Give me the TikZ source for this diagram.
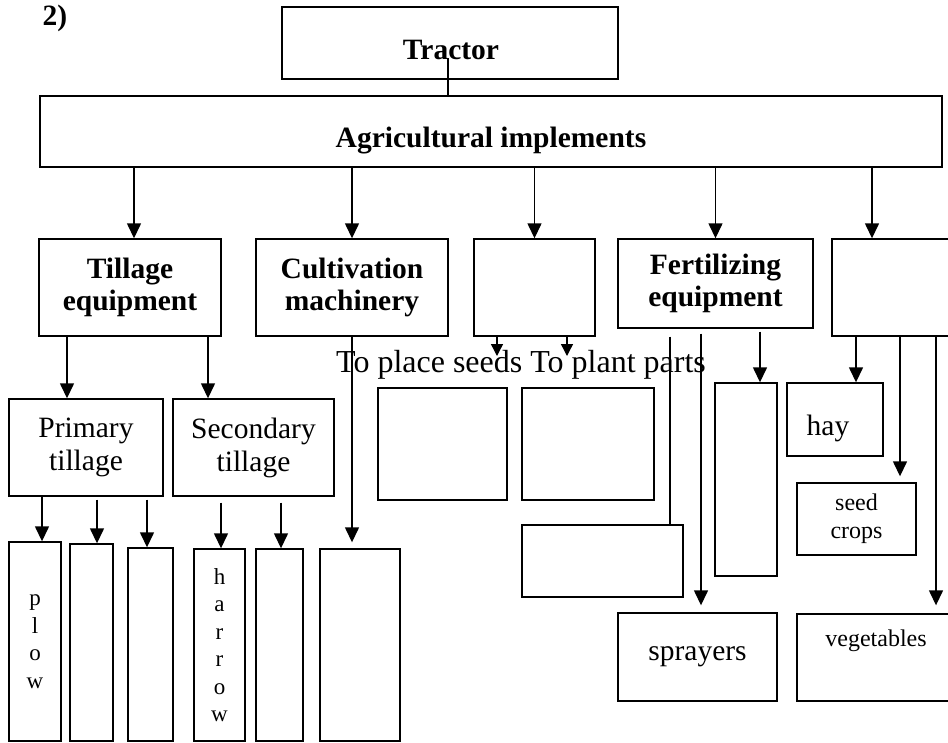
\documentclass[tikz,border=0pt]{standalone}
\usepackage{fontspec}
\setmainfont{Liberation Serif}
\usetikzlibrary{arrows.meta}

\begin{document}
\begin{tikzpicture} [
    x=1pt, y=-1pt,
    block/.style    = { rectangle, draw, line width=1.4pt, inner sep=0pt,
                        align=center },
    txt/.style      = { inner sep=0pt, align=center },
    bold/.style     = { font=\fontsize{29.5}{32}\selectfont\bfseries },
    plain/.style    = { font=\fontsize{29.5}{33}\selectfont },
    small/.style    = { font=\fontsize{24}{28}\selectfont },
    letters/.style  = { font=\fontsize{23}{27.5}\selectfont },
    line/.style     = { draw, line width=1.4pt },
    arrow/.style    = { line, -{Triangle[length=15pt,width=14pt]} },
    minor/.style    = { line, -{Triangle[length=12pt,width=12pt]} },
  ]
  \useasboundingbox (0,0) rectangle (948,742);

  % Define nodes at coordinates
  \node[txt, bold] (num) at (55,18) {2)};
  \node[block, minimum width=336pt, minimum height=72pt] (tractor) at (450,43) {};
  \node[txt, bold] (tractortxt) at (451,50) {Tractor};
  \node[block, minimum width=902pt, minimum height=71pt] (agri) at (491,131.5) {};
  \node[txt, bold] (agritxt) at (491,141) {Agricultural implements};

  \node[block, bold, minimum width=182pt, minimum height=97pt] (tillage) at (130,287.5) {Tillage\\equipment};
  \node[block, bold, minimum width=192pt, minimum height=97pt] (cultiv) at (352,287.5) {Cultivation\\machinery};
  \node[block, minimum width=121pt, minimum height=97pt] (sowing) at (534.5,287.5) {};
  \node[block, bold, minimum width=195pt, minimum height=89pt] (fert) at (715.5,283.5) {Fertilizing\\equipment};
  \node[block, minimum width=130pt, minimum height=97pt] (harvest) at (897,287.5) {};

  \node[block, plain, minimum width=154pt, minimum height=97pt] (primary) at (86,447.5) {Primary\\tillage};
  \node[block, plain, minimum width=161pt, minimum height=97pt] (secondary) at (253.5,447.5) {Secondary\\tillage};
  \node[block, letters, minimum width=52pt, minimum height=199pt] (plow) at (35,641.5) {p\\l\\o\\w};
  \node[block, minimum width=43pt, minimum height=197pt] (primtwo) at (91.5,642.5) {};
  \node[block, minimum width=45pt, minimum height=193pt] (primthree) at (150.5,644.5) {};
  \node[block, letters, minimum width=51pt, minimum height=192pt] (harrow) at (219.5,645) {h\\a\\r\\r\\o\\w};
  \node[block, minimum width=47pt, minimum height=192pt] (sectwo) at (279.5,645) {};
  \node[block, minimum width=80pt, minimum height=192pt] (cultone) at (360,645) {};

  \node[txt, font=\fontsize{32}{36}\selectfont] (sowtxt) at (521,364.5) {To place seeds To plant parts};
  \coordinate (seedtip) at (497,356);
  \coordinate (planttip) at (567,356);
  \node[block, minimum width=129pt, minimum height=112pt] (seeds) at (442.5,444) {};
  \node[block, minimum width=132pt, minimum height=112pt] (parts) at (588,444) {};

  \node[block, minimum width=161pt, minimum height=72pt] (fertone) at (602.5,561) {};
  \node[block, plain, minimum width=159pt, minimum height=88pt] (sprayers) at (697.5,657) {sprayers};
  \node[block, minimum width=62pt, minimum height=193pt] (ferttall) at (746,479.5) {};

  \node[block, minimum width=96pt, minimum height=73pt] (hay) at (835,419.5) {};
  \node[txt, plain] (haytxt) at (828,428) {hay};
  \node[block, small, minimum width=119pt, minimum height=72pt] (seedcrops) at (856.5,519) {seed\\crops};
  \node[block, minimum width=158pt, minimum height=87pt] (veg) at (876,657.5) {};
  \node[txt, small] (vegtxt) at (876,640.5) {vegetables};

  % connect the nodes
  \path [line] ([xshift=-2pt]tractor.center) ++(0,15) -- ([xshift=-2pt]tractor.center |- agri.north);
  \path [arrow] ([xshift=4pt]tillage.north |- agri.south) -- ([xshift=4pt]tillage.north);
  \path [arrow] (cultiv.north |- agri.south) -- (cultiv.north);
  \path [arrow] (sowing.north |- agri.south) -- (sowing.north);
  \path [arrow] (fert.north |- agri.south) -- (fert.north);
  \path [arrow] ([xshift=-25pt]harvest.north |- agri.south) -- ([xshift=-25pt]harvest.north);

  \path [arrow] ([xshift=-19pt]primary.north |- tillage.south) -- ([xshift=-19pt]primary.north);
  \path [arrow] ([xshift=-45.5pt]secondary.north |- tillage.south) -- ([xshift=-45.5pt]secondary.north);
  \path [arrow] ([xshift=7pt]plow.north |- primary.south) -- ([xshift=7pt]plow.north);
  \path [arrow, shorten <=3pt] ([xshift=5.5pt]primtwo.north |- primary.south) -- ([xshift=5.5pt]primtwo.north);
  \path [arrow, shorten <=3pt] ([xshift=-3.5pt]primthree.north |- primary.south) -- ([xshift=-3.5pt]primthree.north);
  \path [arrow, shorten <=6pt] ([xshift=1.5pt]harrow.north |- secondary.south) -- ([xshift=1.5pt]harrow.north);
  \path [arrow, shorten <=6pt] ([xshift=1.5pt]sectwo.north |- secondary.south) -- ([xshift=1.5pt]sectwo.north);
  \path [arrow, shorten >=6pt] ([xshift=-8pt]cultone.north |- cultiv.south) -- ([xshift=-8pt]cultone.north);

  \path [minor] (seedtip |- sowing.south) -- (seedtip);
  \path [minor] (planttip |- sowing.south) -- (planttip);

  \path [line, shorten <=8pt] ([xshift=67.5pt]fertone.north |- fert.south) -- ([xshift=67.5pt]fertone.north);
  \path [arrow, shorten <=5pt, shorten >=7pt] ([xshift=3.5pt]sprayers.north |- fert.south) -- ([xshift=3.5pt]sprayers.north);
  \path [arrow, shorten <=3pt] ([xshift=14pt]ferttall.north |- fert.south) -- ([xshift=14pt]ferttall.north);

  \path [arrow] ([xshift=21pt]hay.north |- harvest.south) -- ([xshift=21pt]hay.north);
  \path [arrow, shorten >=6pt] ([xshift=43.5pt]seedcrops.north |- harvest.south) -- ([xshift=43.5pt]seedcrops.north);
  \path [arrow, shorten >=8pt] ([xshift=60pt]veg.north |- harvest.south) -- ([xshift=60pt]veg.north);
\end{tikzpicture}
\end{document}
